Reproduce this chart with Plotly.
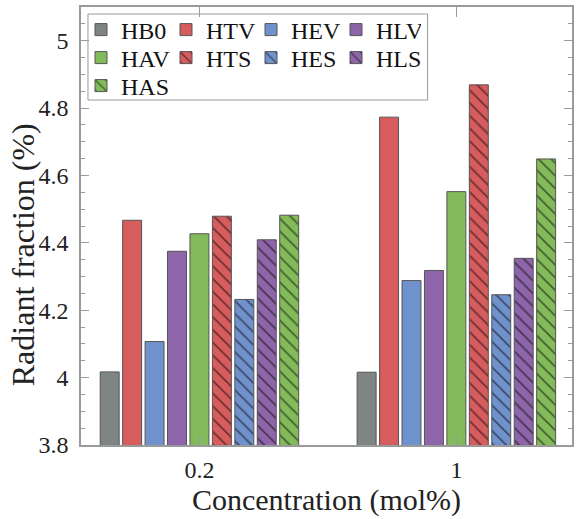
import plotly.graph_objects as go

categories = ["0.2", "1"]
series_names = ["HB0", "HTV", "HEV", "HLV", "HAV", "HTS", "HES", "HLS", "HAS"]
values = {
    "HB0": [4.017, 4.016],
    "HTV": [4.467, 4.773],
    "HEV": [4.107, 4.288],
    "HLV": [4.375, 4.318],
    "HAV": [4.427, 4.552],
    "HTS": [4.479, 4.869],
    "HES": [4.232, 4.246],
    "HLS": [4.409, 4.354],
    "HAS": [4.482, 4.649],
}
colors = {
    "HB0": "#7f8584", "HTV": "#d65c5e", "HEV": "#7092cc", "HLV": "#8e65a8",
    "HAV": "#83bb5a", "HTS": "#d65c5e", "HES": "#7092cc", "HLS": "#8e65a8",
    "HAS": "#83bb5a",
}
hatched = {"HTS", "HES", "HLS", "HAS"}
# legend rows (the reference legend is laid out as 4 columns x 3 rows)
legend_rows = {"HB0": "legend", "HTV": "legend", "HEV": "legend", "HLV": "legend",
               "HAV": "legend2", "HTS": "legend2", "HES": "legend2", "HLS": "legend2",
               "HAS": "legend3"}
x_title = "Concentration (mol%)"
y_title = "Radiant fraction (%)"

FONT = "Liberation Serif"

fig = go.Figure()
for name in series_names:
    pattern = dict(shape="\\", fgcolor="black", size=9, solidity=0.18) if name in hatched else dict(shape="")
    fig.add_trace(go.Bar(
        x=categories, y=values[name], name=name, legend=legend_rows[name],
        marker=dict(color=colors[name], line=dict(color="#555555", width=1), pattern=pattern),
    ))

axis_col = "#9a9a9a"

# plot area in pixels: x 81..574, y 7..445
def px_x(p):
    return (p - 81) / 493.0

def px_y(p):
    return 1 - (p - 7) / 438.0

def leg(ypix, ew):
    return dict(
        x=0, y=px_y(ypix), orientation="h", xanchor="left", yanchor="middle",
        borderwidth=0, bgcolor="rgba(0,0,0,0)",
        font=dict(family=FONT, size=24, color="#111111"),
        entrywidth=ew, entrywidthmode="pixels", tracegroupgap=0, traceorder="normal",
    )

fig.update_layout(
    width=577, height=519,
    margin=dict(l=81, r=3, t=7, b=74),
    paper_bgcolor="white", plot_bgcolor="white",
    barmode="group", bargap=0.214, bargroupgap=0.155,
    font=dict(family=FONT, color="#222222", size=24),
    showlegend=True,
    legend=leg(30, 40),
    legend2=leg(58, 40),
    legend3=leg(86, 70),
    shapes=[dict(type="rect", xref="paper", yref="paper", layer="below",
                 x0=px_x(88), x1=px_x(429), y0=px_y(100), y1=px_y(14),
                 line=dict(color=axis_col, width=1), fillcolor="white")],
    annotations=[dict(text=y_title, textangle=-90, xref="paper", yref="paper",
                      x=px_x(23), y=px_y(255), xanchor="center", yanchor="middle",
                      showarrow=False, font=dict(family=FONT, size=32, color="#222222"))],
    xaxis=dict(
        type="category", range=[-0.461, 1.45],
        showline=True, linecolor=axis_col, linewidth=1.5, mirror="ticks",
        ticks="inside", ticklen=10, tickcolor=axis_col,
        showgrid=False, tickfont=dict(family=FONT, size=24), ticklabelstandoff=2,
        title=dict(text=x_title, font=dict(family=FONT, size=30), standoff=6),
    ),
    yaxis=dict(
        range=[3.8, 5.1], dtick=0.2, tick0=3.8,
        showline=True, linecolor=axis_col, linewidth=1.5, mirror="ticks",
        ticks="inside", ticklen=8, tickcolor=axis_col,
        minor=dict(dtick=0.05, ticks="inside", ticklen=4, tickcolor=axis_col, showgrid=False),
        showgrid=False, zeroline=False, tickfont=dict(family=FONT, size=24), ticklabelstandoff=6,
    ),
)

fig.write_html("out.html")
